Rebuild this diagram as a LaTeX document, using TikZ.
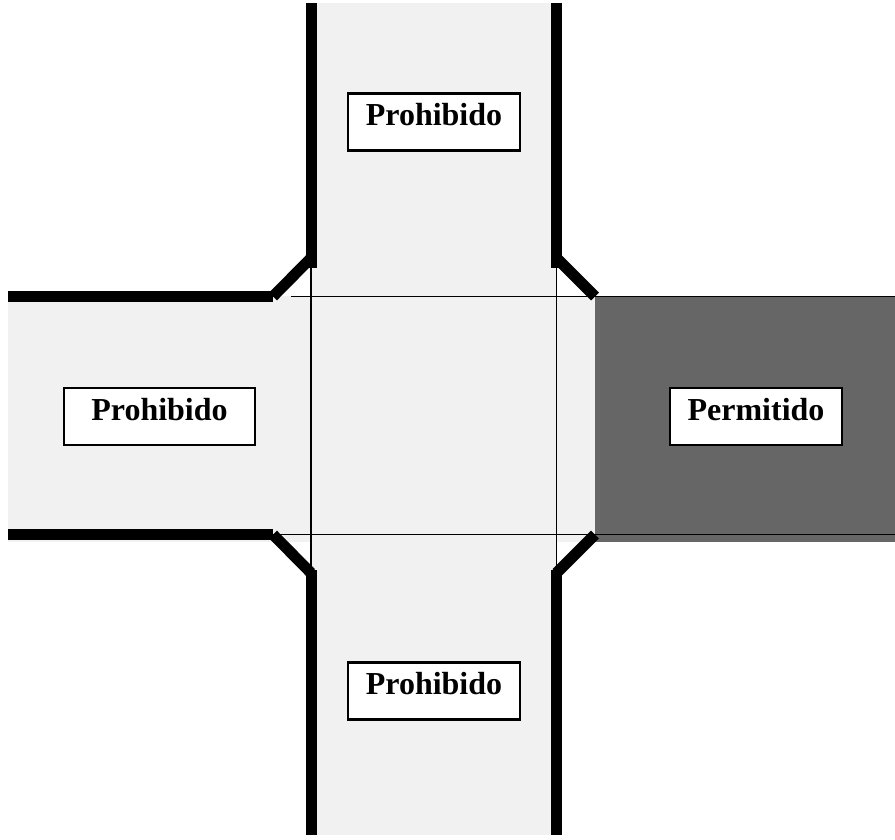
\documentclass[tikz,border=0pt]{standalone}
\usepackage{fontspec}
\setmainfont{Liberation Serif}
\usepackage{xcolor}
\usepackage{tikz}
\definecolor{roadgray}{HTML}{F1F1F1}
\definecolor{opengray}{HTML}{666666}
\tikzset{
    curb/.style={line width=11pt, black},
    stopline/.style={line width=1.4pt, black},
    signbox/.style={rectangle, draw, line width=2.4pt, fill=white, inner sep=0pt, minimum width=#1, text height=32pt, text depth=25pt, font=\fontsize{32}{32}\selectfont\bfseries}
}
\begin{document}
\begin{tikzpicture}[x=1pt, y=-1pt]
    \useasboundingbox (0,0) rectangle (895,839);

    % Road surfaces
    \fill[roadgray] (311,3) rectangle (556,835);
    \fill[roadgray] (8,296) rectangle (595,542);
    \fill[opengray] (595,296) rectangle (895,542);

    % Stop lines
    \draw[stopline] (291,296.5) -- (895,296.5);
    \draw[stopline] (273,534.5) -- (895,534.5);
    \draw[stopline] (311,262) -- (311,573);
    \draw[stopline] (556.5,262) -- (556.5,573);

    % Curbs
    \draw[curb] (8,296.5) -- (273,296.5);
    \draw[curb] (8,534.5) -- (273,534.5);
    \draw[curb] (273,296.5) -- (311,258);
    \draw[curb] (273,534.5) -- (311,573);
    \draw[curb] (595,296.5) -- (556.5,258);
    \draw[curb] (595,534.5) -- (556.5,573);
    \draw[curb] (311,3) -- (311,268);
    \draw[curb] (556.5,3) -- (556.5,268);
    \draw[curb] (311,570) -- (311,835);
    \draw[curb] (556.5,570) -- (556.5,835);

    % Labels
    \node[signbox=172pt] at (434,122) (north) {Prohibido};
    \node[signbox=191pt] at (159.5,416.5) (west) {Prohibido};
    \node[signbox=172pt] at (434,691) (south) {Prohibido};
    \node[signbox=172pt] at (756,416.5) (east) {Permitido};
\end{tikzpicture}
\end{document}
